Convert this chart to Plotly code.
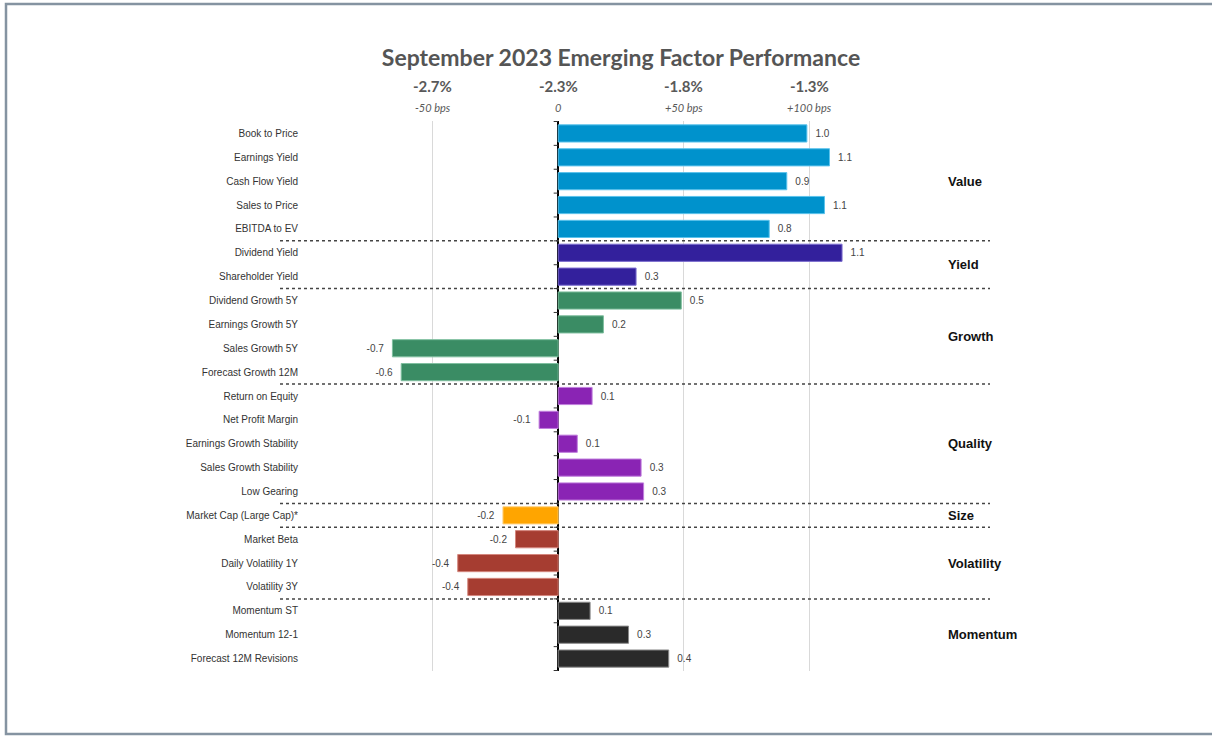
import plotly.graph_objects as go

# Data
factors = ["Book to Price", "Earnings Yield", "Cash Flow Yield", "Sales to Price", "EBITDA to EV",
           "Dividend Yield", "Shareholder Yield",
           "Dividend Growth 5Y", "Earnings Growth 5Y", "Sales Growth 5Y", "Forecast Growth 12M",
           "Return on Equity", "Net Profit Margin", "Earnings Growth Stability", "Sales Growth Stability", "Low Gearing",
           "Market Cap (Large Cap)*",
           "Market Beta", "Daily Volatility 1Y", "Volatility 3Y",
           "Momentum ST", "Momentum 12-1", "Forecast 12M Revisions"]
values = [0.99, 1.08, 0.91, 1.06, 0.84,
          1.13, 0.31,
          0.49, 0.18, -0.66, -0.625,
          0.135, -0.076, 0.076, 0.33, 0.34,
          -0.22,
          -0.17, -0.40, -0.36,
          0.127, 0.28, 0.44]
groups = ["Value"] * 5 + ["Yield"] * 2 + ["Growth"] * 4 + ["Quality"] * 5 + ["Size"] + ["Volatility"] * 3 + ["Momentum"] * 3

group_names = ["Value", "Yield", "Growth", "Quality", "Size", "Volatility", "Momentum"]
group_colors = {"Value": "#0092CC", "Yield": "#33209C", "Growth": "#3A8C64", "Quality": "#8A24B4",
                "Size": "#FFA500", "Volatility": "#A63D31", "Momentum": "#2A2A2A"}
group_edges = {"Value": "#5CC3EC", "Yield": "#7E70D0", "Growth": "#7FBF9F", "Quality": "#C07FDD",
               "Size": "#FFD27F", "Volatility": "#D4877E", "Momentum": "#8A8A8A"}

top_ticks = [-0.5, 0, 0.5, 1.0]
top_pct = ["-2.7%", "-2.3%", "-1.8%", "-1.3%"]
top_bps = ["-50 bps", "0", "+50 bps", "+100 bps"]

W, H = 1212, 737
L, R, T, B = 307, 277, 121, 66
pw, ph = W - L - R, H - T - B

def px_x(p):
    return (p - L) / pw

def px_y(p):
    return (H - B - p) / ph

# value labels, padded away from the bar end
labels = [f"&nbsp;&nbsp;{v:.1f}" if v >= 0 else f"{v:.1f}&nbsp;&nbsp;" for v in values]

fig = go.Figure()
fig.add_trace(go.Bar(
    x=values, y=factors, orientation="h", width=0.72,
    marker=dict(color=[group_colors[g] for g in groups],
                line=dict(color=[group_edges[g] for g in groups], width=1)),
    text=labels, textposition="outside",
    textfont=dict(family="Arial, Liberation Sans", size=10, color="#444444"),
    cliponaxis=False, hoverinfo="x+y",
))

shapes = []
# group separators (dotted)
for i in range(1, len(groups)):
    if groups[i] != groups[i - 1]:
        shapes.append(dict(type="line", xref="paper", yref="y", x0=px_x(280), x1=px_x(990),
                           y0=i - 0.5, y1=i - 0.5, line=dict(color="#444444", width=1.5, dash="dot")))
# small ticks on the zero line
for i in range(len(factors) + 1):
    shapes.append(dict(type="line", xref="x", yref="y", x0=-0.018, x1=0, y0=i - 0.5, y1=i - 0.5,
                       line=dict(color="#333333", width=1)))
# page frame
shapes.append(dict(type="rect", xref="paper", yref="paper", x0=px_x(6), x1=px_x(1216),
                   y0=px_y(734), y1=px_y(4), line=dict(color="#8593A1", width=2.5), layer="below"))

annotations = []
for g in group_names:
    idx = [i for i, gg in enumerate(groups) if gg == g]
    annotations.append(dict(x=px_x(946), xref="paper", y=sum(idx) / len(idx), yref="y",
                            text=f"<b>{g}</b>", showarrow=False, xanchor="left", yanchor="middle",
                            font=dict(family="Arial, Liberation Sans", size=13, color="#111111")))
for xv, p, b in zip(top_ticks, top_pct, top_bps):
    annotations.append(dict(x=xv, xref="x", y=px_y(86), yref="paper", text=f"<b>{p}</b>",
                            showarrow=False, xanchor="center", yanchor="middle",
                            font=dict(family="Lato", size=15, color="#595959")))
    annotations.append(dict(x=xv, xref="x", y=px_y(108), yref="paper", text=f"<i>{b}</i>",
                            showarrow=False, xanchor="center", yanchor="middle",
                            font=dict(family="Lato", size=11, color="#595959")))

fig.update_layout(
    width=W, height=H, margin=dict(l=L, r=R, t=T, b=B),
    paper_bgcolor="white", plot_bgcolor="white", showlegend=False,
    title=dict(text="<b>September 2023 Emerging Factor Performance</b>", x=0.5, xref="paper",
               y=1 - 58 / H, yref="container", yanchor="middle", xanchor="center",
               font=dict(family="Lato", size=23, color="#555555")),
    xaxis=dict(range=[-1.0, 1.5], tickvals=top_ticks, showticklabels=False, showgrid=True,
               gridcolor="#D9D9D9", gridwidth=1, zeroline=True, zerolinecolor="#000000",
               zerolinewidth=1.5, showline=False, fixedrange=True,
               minor=dict(tickvals=[-1.0, 1.5], showgrid=True, gridcolor="#D9D9D9", gridwidth=1)),
    yaxis=dict(autorange="reversed", showgrid=False, showline=False, ticks="",
               ticklabelstandoff=8,
               tickfont=dict(family="Arial, Liberation Sans", size=10, color="#333333")),
    shapes=shapes, annotations=annotations, bargap=0.28,
)

fig.write_html("out.html", config={"displayModeBar": False},
               post_script="document.body.style.margin='0px';")
